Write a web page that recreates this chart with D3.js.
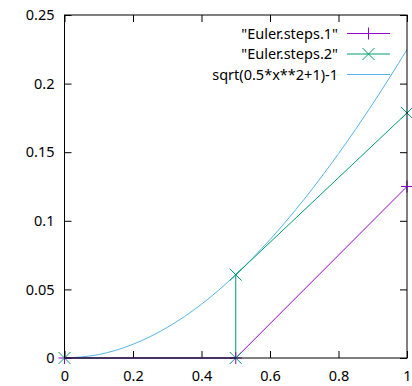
<!DOCTYPE html>
<html>
<head>
<meta charset="utf-8">
<script src="https://cdn.jsdelivr.net/npm/d3@7"></script>
<style>
  body { margin: 0; background: #fff; }
  text { font-family: "Noto Sans", sans-serif; font-size: 14.5px; fill: #000; }
</style>
</head>
<body>
<div id="chart"></div>
<script>
const xTicks = [0, 0.2, 0.4, 0.6, 0.8, 1];
const yTicks = [0, 0.05, 0.1, 0.15, 0.2, 0.25];

const steps1X = [0, 0.5, 1];
const steps1Y = [0, 0, 0.125];

const steps2X = [0, 0.5, 0.5, 1];
const steps2Y = [0, 0, 0.0607, 0.1786];

const curveX = [0, 0.1, 0.2, 0.3, 0.4, 0.5, 0.6, 0.7, 0.8, 0.9, 1];
const curveY = [0, 0.0025, 0.01, 0.0223, 0.0392, 0.0607, 0.0863, 0.1158, 0.1489, 0.1853, 0.2247];

const seriesNames = ['"Euler.steps.1"', '"Euler.steps.2"', 'sqrt(0.5*x**2+1)-1'];
const colors = ["#9400d3", "#009e73", "#56b4e9"];

const width = 412;
const height = 386;
const margin = { top: 15, right: 5, bottom: 28, left: 64.5 };
const w = width - margin.left - margin.right;
const h = height - margin.top - margin.bottom;

const svg = d3.select("#chart")
    .append("svg")
    .attr("width", width)
    .attr("height", height)
    .append("g")
    .attr("transform", `translate(${margin.left}, ${margin.top})`);

const xScale = d3.scaleLinear().domain([0, 1]).range([0, w]);
const yScale = d3.scaleLinear().domain([0, 0.25]).range([h, 0]);

// ticks inward on all four sides
svg.append("g")
    .attr("transform", `translate(0, ${h})`)
    .call(d3.axisBottom(xScale).tickValues(xTicks).tickSize(-7).tickPadding(13).tickFormat(d3.format("~g")))
    .call(g => g.select(".domain").remove());
svg.append("g")
    .call(d3.axisTop(xScale).tickValues(xTicks).tickSize(-7).tickFormat(""))
    .call(g => g.select(".domain").remove());
svg.append("g")
    .call(d3.axisLeft(yScale).tickValues(yTicks).tickSize(-7).tickPadding(10).tickFormat(d3.format("~g")))
    .call(g => g.select(".domain").remove());
svg.append("g")
    .attr("transform", `translate(${w}, 0)`)
    .call(d3.axisRight(yScale).tickValues(yTicks).tickSize(-7).tickFormat(""))
    .call(g => g.select(".domain").remove());

svg.selectAll(".tick text").style("font-family", "Noto Sans").style("font-size", "14.5px");
svg.selectAll(".tick line").attr("stroke", "#000");

const line = d3.line().x(d => xScale(d[0])).y(d => yScale(d[1]));

const s1 = steps1X.map((x, i) => [x, steps1Y[i]]);
const s2 = steps2X.map((x, i) => [x, steps2Y[i]]);
const s3 = curveX.map((x, i) => [x, curveY[i]]);

const curve = d3.line().x(d => xScale(d[0])).y(d => yScale(d[1])).curve(d3.curveMonotoneX);

svg.append("path").datum(s3)
    .attr("fill", "none").attr("stroke", colors[2]).attr("stroke-width", 1).attr("d", curve);
svg.append("path").datum(s2)
    .attr("fill", "none").attr("stroke", colors[1]).attr("stroke-width", 1).attr("d", line);
svg.append("path").datum(s1)
    .attr("fill", "none").attr("stroke", colors[0]).attr("stroke-width", 1).attr("d", line);

const plus = (g, x, y, c) => g.append("path")
    .attr("d", `M${x - 6},${y}H${x + 6}M${x},${y - 6}V${y + 6}`)
    .attr("stroke", c).attr("stroke-width", 1).attr("fill", "none");
const cross = (g, x, y, c) => g.append("path")
    .attr("d", `M${x - 6},${y - 6}L${x + 6},${y + 6}M${x - 6},${y + 6}L${x + 6},${y - 6}`)
    .attr("stroke", c).attr("stroke-width", 1).attr("fill", "none");

s1.forEach(d => plus(svg, xScale(d[0]), yScale(d[1]), colors[0]));
s2.forEach(d => cross(svg, xScale(d[0]), yScale(d[1]), colors[1]));

// border
svg.append("rect")
    .attr("width", w).attr("height", h)
    .attr("fill", "none").attr("stroke", "#000").attr("stroke-width", 1);

// legend
const legend = svg.append("g").attr("transform", `translate(${338 - margin.left}, 0)`);
seriesNames.forEach((name, i) => {
    const y = 18.5 + i * 20.5;
    legend.append("text")
        .attr("x", 0).attr("y", y)
        .attr("dy", "0.35em")
        .attr("text-anchor", "end")
        .text(name);
    legend.append("line")
        .attr("x1", 9).attr("x2", 52).attr("y1", y).attr("y2", y)
        .attr("stroke", colors[i]).attr("stroke-width", 1);
    if (i === 0) plus(legend, 30.5, y, colors[0]);
    if (i === 1) cross(legend, 30.5, y, colors[1]);
});
</script>
</body>
</html>
